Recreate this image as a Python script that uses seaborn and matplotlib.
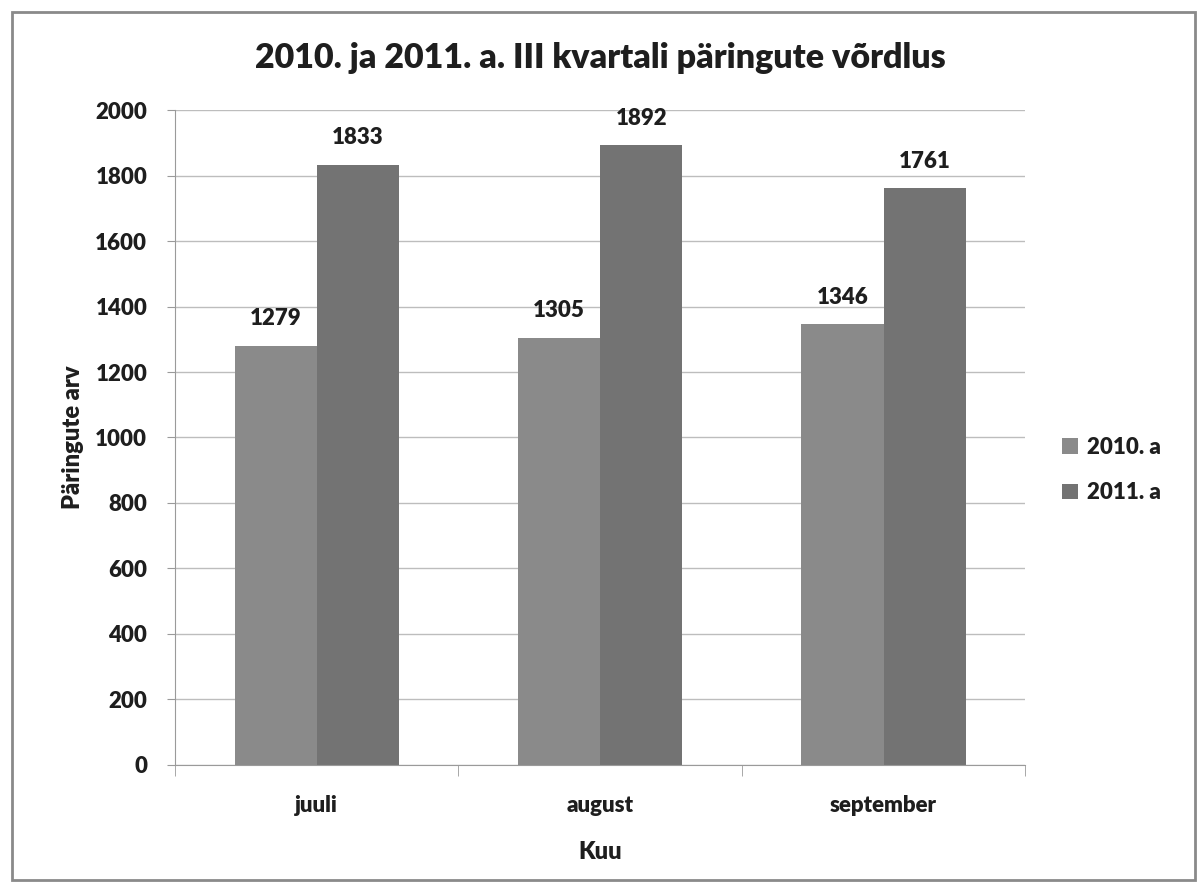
import matplotlib
matplotlib.use("Agg")
import matplotlib.pyplot as plt
from matplotlib.patches import Rectangle
import seaborn as sns
import pandas as pd

months = ["juuli", "august", "september"]
years = ["2010. a", "2011. a"]
values_2010 = [1279, 1305, 1346]
values_2011 = [1833, 1892, 1761]
colors = ["#8a8a8a", "#737373"]

df = pd.DataFrame({
    "Kuu": months * 2,
    "Aasta": [years[0]] * 3 + [years[1]] * 3,
    "arv": values_2010 + values_2011,
})

sns.set_style("white")
plt.rcParams["font.family"] = ["Lato", "DejaVu Sans"]
plt.rcParams["font.weight"] = "heavy"
W = "heavy"
TXT = "#1e1e1e"

fig = plt.figure(figsize=(12.02, 8.85), dpi=100)
ax = fig.add_axes([0.1456, 0.1356, 0.7074, 0.7401])

sns.barplot(data=df, x="Kuu", y="arv", hue="Aasta", palette=colors,
            width=0.58, saturation=1, linewidth=0, ax=ax, legend=True)

for c in ax.containers:
    ax.bar_label(c, padding=12, fontsize=16, fontweight=W, color=TXT)

ax.set_ylim(0, 2000)
ax.set_yticks(range(0, 2001, 200))
ax.set_xlim(-0.5, 2.5)
ax.yaxis.grid(True, color="#bdbdbd", linewidth=1)
ax.set_axisbelow(True)
for s in ["top", "right"]:
    ax.spines[s].set_visible(False)
ax.spines["left"].set_color("#9a9a9a")
ax.spines["bottom"].set_color("#9a9a9a")

ax.tick_params(axis="y", labelsize=16, colors=TXT, length=6, direction="out",
               left=True, color="#9a9a9a", pad=14)
ax.tick_params(axis="x", labelsize=16, colors=TXT, bottom=False, pad=18)
for lbl in ax.get_xticklabels() + ax.get_yticklabels():
    lbl.set_fontweight(W)
# category boundary ticks like Excel
ax.set_xticks([-0.5, 0.5, 1.5, 2.5], minor=True)
ax.tick_params(axis="x", which="minor", bottom=True, length=8, color="#9a9a9a", direction="out")

ax.set_xlabel("Kuu", fontsize=17, fontweight=W, color=TXT, labelpad=18)
ax.set_ylabel("Päringute arv", fontsize=17, fontweight=W, color=TXT, labelpad=8)
ax.set_title("2010. ja 2011. a. III kvartali päringute võrdlus", fontsize=24.5,
             fontweight=W, color=TXT, pad=30)

leg = ax.legend(loc="center left", bbox_to_anchor=(1.02, 0.45), frameon=False,
                fontsize=16, handlelength=0.7, handleheight=0.7, handletextpad=0.4,
                labelspacing=1.1)
for t in leg.get_texts():
    t.set_color(TXT)
    t.set_fontweight(W)

fig.patches.append(Rectangle((0.01, 0.006), 0.984, 0.98, transform=fig.transFigure,
                             fill=False, edgecolor="#8a8a8a", linewidth=2))

fig.savefig("out.png", dpi=100)
